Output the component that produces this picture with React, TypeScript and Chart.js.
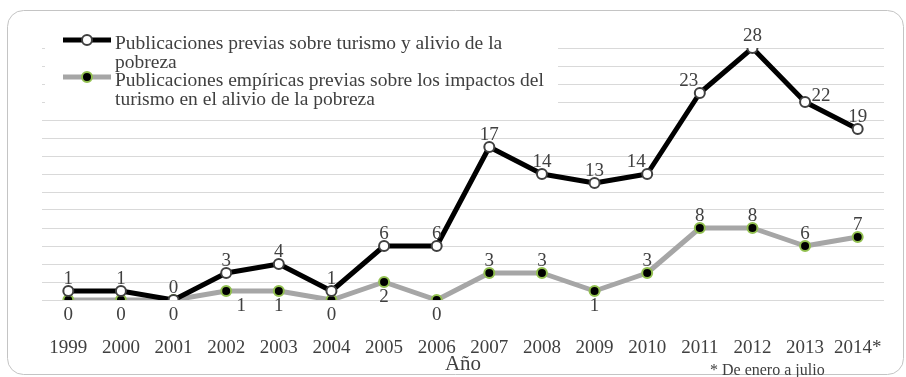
import React, { useEffect, useRef } from "react";
import { Chart, registerables } from "chart.js";

Chart.register(...registerables);

const years = ["1999", "2000", "2001", "2002", "2003", "2004", "2005", "2006", "2007", "2008", "2009", "2010", "2011", "2012", "2013", "2014*"];
const previas = [1, 1, 0, 3, 4, 1, 6, 6, 17, 14, 13, 14, 23, 28, 22, 19];
const empiricas = [0, 0, 0, 1, 1, 0, 2, 0, 3, 3, 1, 3, 8, 8, 6, 7];
const seriesNames = [
  "Publicaciones previas sobre turismo y alivio de la pobreza",
  "Publicaciones empíricas previas sobre los impactos del turismo en el alivio de la pobreza",
];
const axisTitle = "Año";
const footnote = "* De enero a julio";
const yMin = 0;
const yMax = 28;
const yStep = 2;

const FONT = '"Liberation Serif", "Times New Roman", serif';
const TEXT = "#404040";

const framePlugin = {
  id: "frame",
  beforeDraw(chart: any) {
    const ctx = chart.ctx;
    ctx.save();
    ctx.fillStyle = "#ffffff";
    ctx.fillRect(0, 0, chart.width, chart.height);
    const x = 7.5, y = 10.5, w = 896, h = 364, r = 16;
    ctx.beginPath();
    ctx.moveTo(x + r, y);
    ctx.lineTo(x + w - r, y);
    ctx.arcTo(x + w, y, x + w, y + r, r);
    ctx.lineTo(x + w, y + h - r);
    ctx.arcTo(x + w, y + h, x + w - r, y + h, r);
    ctx.lineTo(x + r, y + h);
    ctx.arcTo(x, y + h, x, y + h - r, r);
    ctx.lineTo(x, y + r);
    ctx.arcTo(x, y, x + r, y, r);
    ctx.closePath();
    ctx.strokeStyle = "#c4c4c4";
    ctx.lineWidth = 1;
    ctx.stroke();
    ctx.restore();
  },
};

function wrap(ctx: CanvasRenderingContext2D, text: string, maxW: number): string[] {
  const words = text.split(" ");
  const lines: string[] = [];
  let cur = "";
  for (const w of words) {
    const t = cur ? cur + " " + w : w;
    if (ctx.measureText(t).width > maxW && cur) {
      lines.push(cur);
      cur = w;
    } else cur = t;
  }
  if (cur) lines.push(cur);
  return lines;
}

const legendPlugin = {
  id: "customLegend",
  afterDatasetsDraw(chart: any) {
    const ctx = chart.ctx;
    ctx.save();
    ctx.fillStyle = "#ffffff";
    ctx.fillRect(45, 28, 513, 86);
    ctx.font = `19.5px ${FONT}`;
    ctx.textBaseline = "alphabetic";
    ctx.textAlign = "left";
    const baselines = [49, 86];
    chart.data.datasets.forEach((ds: any, i: number) => {
      const b = baselines[i];
      const sy = b - 9;
      ctx.beginPath();
      ctx.moveTo(63, sy);
      ctx.lineTo(111, sy);
      ctx.strokeStyle = ds.borderColor;
      ctx.lineWidth = 5;
      ctx.stroke();
      ctx.beginPath();
      ctx.arc(87, sy, 5, 0, Math.PI * 2);
      ctx.fillStyle = ds.pointBackgroundColor;
      ctx.fill();
      ctx.lineWidth = 2;
      ctx.strokeStyle = ds.pointBorderColor;
      ctx.stroke();
      ctx.fillStyle = TEXT;
      const lines = wrap(ctx, ds.label, 440);
      lines.forEach((ln, k) => ctx.fillText(ln, 115, b + k * 19));
    });
    ctx.restore();
  },
};

const valueLabelPlugin = {
  id: "valueLabels",
  afterDatasetsDraw(chart: any) {
    const ctx = chart.ctx;
    ctx.save();
    ctx.font = `19px ${FONT}`;
    ctx.fillStyle = TEXT;
    ctx.textAlign = "center";
    ctx.textBaseline = "alphabetic";
    chart.data.datasets.forEach((ds: any, di: number) => {
      const meta = chart.getDatasetMeta(di);
      meta.data.forEach((pt: any, i: number) => {
        const v = ds.data[i];
        const prev = i > 0 ? ds.data[i - 1] : v;
        const next = i < ds.data.length - 1 ? ds.data[i + 1] : v;
        let dx = 0;
        let y = pt.y - 7;
        if (di === 0) {
          if (v - prev > 0 && next - v >= 5) dx = -11;
          else if (v - prev <= -5 && next - v < 0) { dx = 16; y = pt.y - 1; }
        } else if (v < 3) {
          y = pt.y + 20;
          if (v > prev && v === next) dx = 15;
        }
        ctx.fillText(String(v), pt.x + dx, y);
      });
    });
    ctx.font = `16px ${FONT}`;
    ctx.textAlign = "left";
    ctx.fillText(footnote, 710, 375);
    ctx.restore();
  },
};

export default function App() {
  const ref = useRef<HTMLCanvasElement | null>(null);
  useEffect(() => {
    if (!ref.current) return;
    const chart = new Chart(ref.current, {
      type: "line",
      data: {
        labels: years,
        datasets: [
          {
            label: seriesNames[0],
            data: previas,
            borderColor: "#000000",
            borderWidth: 5,
            pointRadius: 5,
            pointBorderWidth: 2,
            pointBackgroundColor: "#ffffff",
            pointBorderColor: "#404040",
            borderJoinStyle: "round",
            tension: 0,
          },
          {
            label: seriesNames[1],
            data: empiricas,
            borderColor: "#a6a6a6",
            borderWidth: 5,
            pointRadius: 5,
            pointBorderWidth: 2,
            pointBackgroundColor: "#000000",
            pointBorderColor: "#92c050",
            borderJoinStyle: "round",
            tension: 0,
          },
        ],
      },
      options: {
        responsive: false,
        animation: false,
        devicePixelRatio: 1,
        layout: { padding: { top: 48, left: 42, right: 22, bottom: 0 } },
        plugins: { legend: { display: false }, tooltip: { enabled: false } },
        scales: {
          x: {
            offset: true,
            grid: { display: false, drawTicks: false },
            border: { display: false },
            ticks: { color: TEXT, font: { family: FONT, size: 19 }, padding: 37, maxRotation: 0, autoSkip: false },
            title: { display: true, text: axisTitle, color: TEXT, font: { family: FONT, size: 21 }, padding: { top: 0, bottom: 0 } },
            afterFit: (s: any) => { s.height = 77; s.paddingLeft = 0; s.paddingRight = 0; },
          },
          y: {
            min: yMin,
            max: yMax,
            ticks: { display: false, stepSize: yStep },
            grid: { color: "#d9d9d9", lineWidth: 1, drawTicks: false },
            border: { display: false },
            afterFit: (s: any) => { s.width = 0; s.paddingTop = 0; s.paddingBottom = 0; },
          },
        },
      },
      plugins: [framePlugin, legendPlugin, valueLabelPlugin],
    });
    return () => chart.destroy();
  }, []);
  return (
    <div style={{ position: "absolute", left: 0, top: 0, width: 906, height: 377 }}>
      <canvas ref={ref} width={906} height={377} />
    </div>
  );
}
